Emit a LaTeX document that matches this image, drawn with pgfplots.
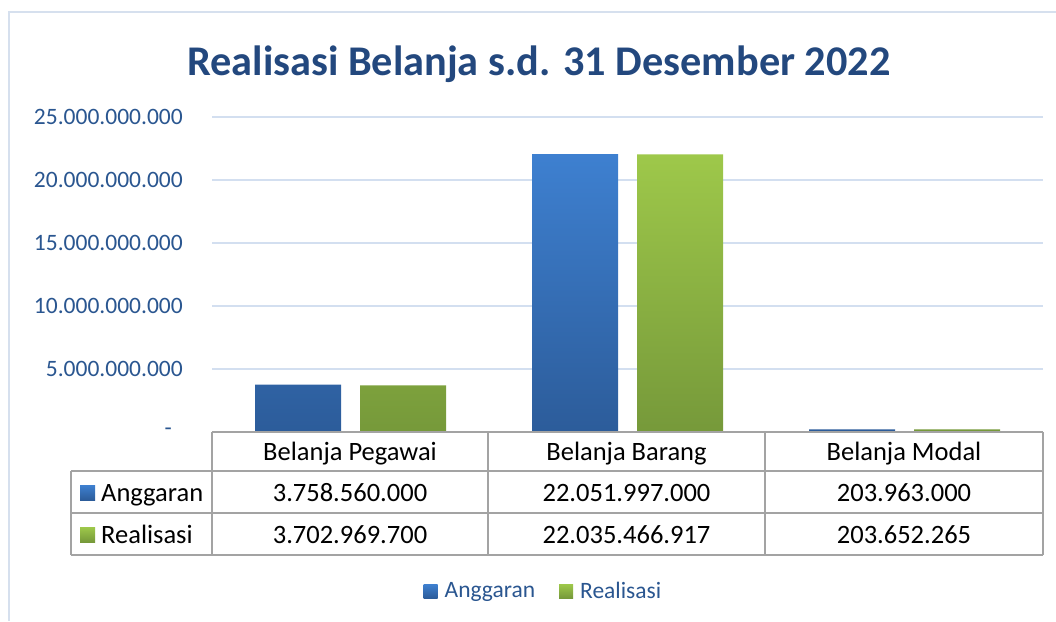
\documentclass[border=0pt]{standalone}
\usepackage{fontspec}
\setmainfont{Carlito}
\usepackage{pgfplots}
\pgfplotsset{compat=1.18}

\definecolor{titleblue}{HTML}{23487E}
\definecolor{tickblue}{HTML}{2A5690}
\definecolor{gridblue}{HTML}{D3DFF0}
\definecolor{frameblue}{HTML}{D6E0EE}
\definecolor{blueTop}{HTML}{3E80D0}
\definecolor{blueBot}{HTML}{2C5C9A}
\definecolor{greenTop}{HTML}{9EC84A}
\definecolor{greenBot}{HTML}{76993A}
\definecolor{tablegray}{HTML}{A3A3A3}

\newcommand{\tickfont}{\fontsize{23.5}{28}\selectfont}
\newcommand{\tabfont}{\fontsize{26.5}{31}\selectfont}

\begin{document}
\begin{tikzpicture}[x=1pt,y=1pt]
\path[use as bounding box] (0,0) rectangle (1056,-621);
\draw[frameblue, line width=2pt] (9,-621) -- (9,-12) -- (1056,-12);

\node[anchor=base, inner sep=0pt, text=titleblue, font=\fontsize{42.3}{50}\selectfont\bfseries] at (539,-75) {Realisasi Belanja s.d. 31 Desember 2022};

\begin{axis}[
  at={(212pt,-432pt)}, anchor=south west,
  scale only axis, width=831pt, height=315pt,
  xmin=-0.5, xmax=2.5, ymin=0, ymax=25e9,
  axis line style={draw=none},
  xtick=\empty,
  ytick={0,5e9,10e9,15e9,20e9,25e9},
  scaled y ticks=false,
  yticklabels={{-\kern11pt},5.000.000.000,10.000.000.000,15.000.000.000,20.000.000.000,25.000.000.000},
  ymajorgrids,
  grid style={gridblue, line width=2pt},
  major tick length=0pt,
  ytick style={draw=none},
  yticklabel style={font=\tickfont, text=tickblue, anchor=east, inner sep=0pt, xshift=-29pt},
  legend style={at={(0.3995,-0.505)}, anchor=center, draw=none, fill=none,
    legend columns=2, font=\tickfont, text=tickblue,
    nodes={inner xsep=3pt, inner ysep=0pt},
    /tikz/every even column/.append style={column sep=21pt}},
]
\addplot[ybar, bar width=86pt, bar shift=-52.5pt, draw=none,
  top color=blueTop, bottom color=blueBot,
  legend image code/.code={\path (0pt,0pt) -- (18pt,0pt);\shade[top color=blueTop,bottom color=blueBot] (0pt,-7pt) rectangle (14pt,7pt);}]
  coordinates {(0,3758560000) (1,22051997000) (2,203963000)};
\addlegendentry{Anggaran}
\addplot[ybar, bar width=86pt, bar shift=52.5pt, draw=none,
  top color=greenTop, bottom color=greenBot,
  legend image code/.code={\path (0pt,0pt) -- (18pt,0pt);\shade[top color=greenTop,bottom color=greenBot] (0pt,-7pt) rectangle (14pt,7pt);}]
  coordinates {(0,3702969700) (1,22035466917) (2,203652265)};
\addlegendentry{Realisasi}
\end{axis}

% data table
\begin{scope}[tablegray, line width=1.8pt]
\draw (212,-432) -- (1043,-432);
\draw (71,-471) -- (1043,-471);
\draw (71,-513) -- (1043,-513);
\draw (71,-555) -- (1043,-555);
\draw (212,-432) -- (212,-555);
\draw (488,-432) -- (488,-555);
\draw (765,-432) -- (765,-555);
\draw (1043,-432) -- (1043,-555);
\draw (71,-471) -- (71,-555);
\end{scope}
\begin{scope}[every node/.style={anchor=base, inner sep=0pt, font=\tabfont, text=black}]
\node at (350,-460) {Belanja Pegawai};
\node at (626.5,-460) {Belanja Barang};
\node at (904,-460) {Belanja Modal};
\node at (350,-501) {3.758.560.000};
\node at (626.5,-501) {22.051.997.000};
\node at (904,-501) {203.963.000};
\node at (350,-543) {3.702.969.700};
\node at (626.5,-543) {22.035.466.917};
\node at (904,-543) {203.652.265};
\node[anchor=base west] at (101,-501) {Anggaran};
\node[anchor=base west] at (101,-543) {Realisasi};
\end{scope}
\shade[top color=blueTop, bottom color=blueBot] (80,-485) rectangle (95,-500);
\shade[top color=greenTop, bottom color=greenBot] (80,-527) rectangle (95,-542);
\end{tikzpicture}
\end{document}
